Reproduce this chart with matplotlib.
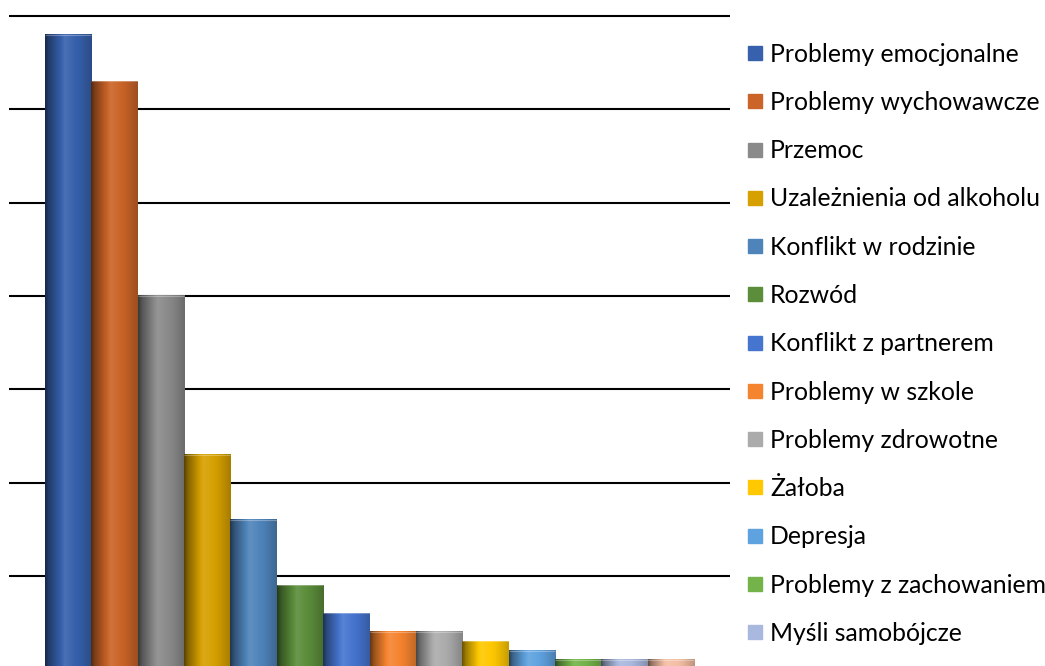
import numpy as np
import matplotlib
matplotlib.use("Agg")
import matplotlib.pyplot as plt
from matplotlib.lines import Line2D
from matplotlib.colors import to_rgb

categories = ["Problemy emocjonalne", "Problemy wychowawcze", "Przemoc",
              "Uzależnienia od alkoholu", "Konflikt w rodzinie", "Rozwód",
              "Konflikt z partnerem", "Problemy w szkole", "Problemy zdrowotne",
              "Żałoba", "Depresja", "Problemy z zachowaniem", "Myśli samobójcze",
              "Inne"]
values = [136, 126, 80, 46, 32, 18, 12, 8, 8, 6, 4, 2, 2, 2]
colors = ["#3761AD", "#CA6428", "#8A8A8A", "#D6A000", "#4F84BB", "#5B8D3A",
          "#4675CF", "#F5842F", "#ABABAB", "#FFC800", "#5FA2E0", "#73B349",
          "#A9B8DE", "#F4BFA3"]
yticks = [0, 20, 40, 60, 80, 100, 120, 140]
n_legend_visible = 13  # the last legend entry falls outside the picture

W, H = 1045, 666
fig = plt.figure(figsize=(W / 100, H / 100), dpi=100)
plt.rcParams['font.family'] = ['Lato', 'DejaVu Sans']

# axes placement (pixels)
x_left, x_right = 9, 730
y0_px, y140_px = 669.3, 16.0
ymax = 145
ppu = (y0_px - y140_px) / 140.0
top_px = y0_px - ymax * ppu
ax = fig.add_axes([x_left / W, (H - y0_px) / H, (x_right - x_left) / W, (y0_px - top_px) / H])

x = np.arange(len(categories))
bars = ax.bar(x, values, width=1.0, color=colors, zorder=2, linewidth=0)

# cylinder-like horizontal shading
t = np.linspace(0, 1, 64)
prof = np.interp(t, [0, 0.08, 0.42, 0.75, 1.0], [0.42, 0.62, 1.10, 0.95, 0.78])
for b, c in zip(bars, colors):
    rgb = np.array(to_rgb(c))
    img = np.zeros((1, len(t), 3))
    for i, p in enumerate(prof):
        if p <= 1:
            img[0, i] = rgb * p
        else:
            img[0, i] = rgb + (1 - rgb) * (p - 1)
    x0 = b.get_x()
    ax.imshow(img, extent=(x0, x0 + b.get_width(), 0, b.get_height()),
              aspect='auto', zorder=3, interpolation='bilinear')
    ax.plot([x0, x0 + b.get_width()], [b.get_height()] * 2, color='white',
            alpha=0.3, lw=0.8, zorder=4, solid_capstyle='butt')

bar_px = (694 - 45) / 14.0
margin = (45 - x_left) / bar_px
ax.set_xlim(-0.5 - margin, len(categories) - 0.5 + margin)
ax.set_ylim(0, ymax)
ax.set_yticks(yticks)
ax.yaxis.grid(True, color='black', linewidth=1.5, zorder=0)
ax.set_axisbelow(True)
ax.tick_params(left=False, bottom=False, labelleft=False, labelbottom=False)
for s in ax.spines.values():
    s.set_visible(False)

handles = [Line2D([], [], marker='s', linestyle='', markersize=10.0, color=c)
           for c in colors[:n_legend_visible]]
fs = 17.8
leg = fig.legend(handles, categories[:n_legend_visible], loc='upper left',
                 bbox_to_anchor=(748 / W, (H - 42.7) / H), frameon=False,
                 fontsize=fs, handlelength=0.6, handletextpad=0.3,
                 labelspacing=1.022, borderpad=0, borderaxespad=0)

fig.savefig("out.png", dpi=100)
